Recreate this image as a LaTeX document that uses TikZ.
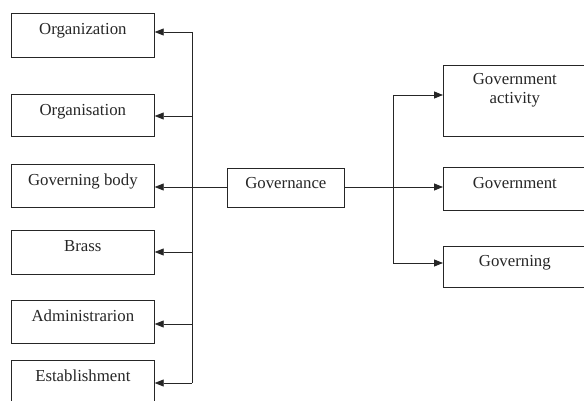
\documentclass[tikz,border=0pt]{standalone}
\usepackage{fontspec}
\setmainfont{Liberation Serif}
\usetikzlibrary{arrows.meta}
\begin{document}
\begin{tikzpicture}[x=1pt,y=-1pt,
  box/.style={draw=black!85, line width=0.7pt, inner sep=0pt, anchor=north west,
    minimum width=143pt, text=black!85, font=\fontsize{16.8}{18.5}\selectfont},
  conn/.style={draw=black!85, line width=0.8pt},
  arr/.style={conn, -{Triangle[length=9pt,width=7pt]}}]
\useasboundingbox (0,0) rectangle (584,401);
\clip (0,0) rectangle (584,401);
% left boxes
\node[box, text height=21pt, text depth=23pt] (org) at (11,13) {Organization};
\node[box, text height=21pt, text depth=21pt] (orgs) at (11,94) {Organisation};
\node[box, text height=21pt, text depth=22pt] (gb) at (11,164) {Governing body};
\node[box, text height=21pt, text depth=23pt] (brass) at (11,230) {Brass};
\node[box, text height=21pt, text depth=22pt] (adm) at (11,300) {Administrarion};
\node[box, text height=21pt, text depth=30pt] (est) at (11,360) {Establishment};
% centre
\node[box, minimum width=117pt, text height=20pt, text depth=19pt] (gov) at (227,168) {Governance};
% right boxes
\node[box, align=center, text height=38pt, text depth=33pt] (ga) at (443,65) {Government\\activity};
\node[box, text height=21pt, text depth=22pt] (gmt) at (443,167) {Government};
\node[box, text height=20pt, text depth=21pt] (gng) at (443,246) {Governing};
% bus coordinates
\coordinate (b1) at (192,32);
\coordinate (b2) at (192,116);
\coordinate (b4) at (192,252);
\coordinate (b5) at (192,324);
\coordinate (b6) at (192,383);
\coordinate (r1) at (393,95);
\coordinate (r3) at (393,263);
% left connectors
\draw[conn] (b1) -- (b6);
\draw[arr] (b1) -- (b1 -| org.east);
\draw[arr] (b2) -- (b2 -| orgs.east);
\draw[arr] (gov.west |- 0,187) -- (gb.east |- 0,187);
\draw[arr] (b4) -- (b4 -| brass.east);
\draw[arr] (b5) -- (b5 -| adm.east);
\draw[arr] (b6) -- (b6 -| est.east);
% right connectors
\draw[conn] (r1) -- (r3);
\draw[arr] (gov.east |- 0,187) -- (gmt.west |- 0,187);
\draw[arr] (r1) -- (r1 -| ga.west);
\draw[arr] (r3) -- (r3 -| gng.west);
\end{tikzpicture}
\end{document}
